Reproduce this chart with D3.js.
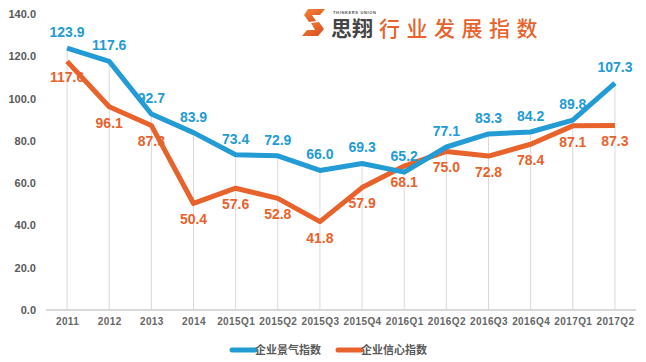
<!DOCTYPE html>
<html>
<head>
<meta charset="utf-8">
<script src="https://cdn.jsdelivr.net/npm/d3@7"></script>
<style>
html,body{margin:0;padding:0;background:#fff;}
svg{display:block;}
</style>
</head>
<body>
<svg id="chart" width="646" height="362"></svg>
<script>
const categories = ["2011","2012","2013","2014","2015Q1","2015Q2","2015Q3","2015Q4","2016Q1","2016Q2","2016Q3","2016Q4","2017Q1","2017Q2"];
const prosperity = [123.9,117.6,92.7,83.9,73.4,72.9,66.0,69.3,65.2,77.1,83.3,84.2,89.8,107.3];
const confidence = [117.6,96.1,87.3,50.4,57.6,52.8,41.8,57.9,68.1,75.0,72.8,78.4,87.1,87.3];
const yTicks = [0,20,40,60,80,100,120,140];
const seriesNames = ["企业景气指数","企业信心指数"];
const titleBrand = "思翔";
const titleText = "行业发展指数";

const blue = "#239bd4", orange = "#e8622c", gray = "#595959";
const svg = d3.select("#chart");
const font = "'Liberation Sans', Arial, sans-serif";

const x = d3.scalePoint().domain(categories).range([46, 636]).padding(0.5);
const y = d3.scaleLinear().domain([0,140]).range([310, 14]);

// drop lines
svg.append("g").selectAll("line").data(categories).join("line")
  .attr("x1", d=>x(d)).attr("x2", d=>x(d))
  .attr("y1", (d,i)=>y(Math.max(prosperity[i], confidence[i])))
  .attr("y2", y(0))
  .attr("stroke", "#d9d9d9").attr("stroke-width", 1);

// y axis labels
const yAxis = d3.axisLeft(y).tickValues(yTicks).tickFormat(d3.format(".1f")).tickSize(0).tickPadding(0);
const ya = svg.append("g").attr("transform","translate(36,0)").call(yAxis);
ya.select(".domain").remove();
ya.selectAll("text").attr("font-family", font).attr("font-size", 11).attr("font-weight","bold").attr("fill", gray);

// x axis
const xAxis = d3.axisBottom(x).tickSize(0).tickPadding(8);
const xa = svg.append("g").attr("transform", `translate(0,${y(0)})`).call(xAxis);
xa.select(".domain").attr("stroke","#d9d9d9").attr("stroke-width",2).attr("d","M46,0H636");
xa.selectAll("text").attr("font-family", font).attr("font-size", 10).attr("font-weight","bold")
  .attr("fill", "#666").attr("letter-spacing", 0.4);

const line = d3.line().x((d,i)=>x(categories[i])).y(d=>y(d));
svg.append("path").datum(confidence).attr("d", line).attr("fill","none")
  .attr("stroke", orange).attr("stroke-width", 5).attr("stroke-linejoin","round");
svg.append("path").datum(prosperity).attr("d", line).attr("fill","none")
  .attr("stroke", blue).attr("stroke-width", 5).attr("stroke-linejoin","round");

// labels
svg.append("g").selectAll("text").data(confidence).join("text")
  .attr("x",(d,i)=>x(categories[i])).attr("y", d=>y(d)+16).attr("dy","0.35em")
  .attr("text-anchor","middle").attr("font-family",font).attr("font-size",14).attr("font-weight","bold")
  .attr("fill", orange).text(d=>d.toFixed(1));
svg.append("g").selectAll("text").data(prosperity).join("text")
  .attr("x",(d,i)=>x(categories[i])).attr("y", d=>y(d)-16).attr("dy","0.35em")
  .attr("text-anchor","middle").attr("font-family",font).attr("font-size",14).attr("font-weight","bold")
  .attr("fill", blue).text(d=>d.toFixed(1));

// title with logo
const logo = svg.append("g").attr("transform","translate(302,9)");
const grad = svg.append("defs").append("linearGradient").attr("id","lg").attr("x1","0").attr("y1","0").attr("x2","1").attr("y2","1");
grad.append("stop").attr("offset","0").attr("stop-color","#f08a3a");
grad.append("stop").attr("offset","1").attr("stop-color","#d9481e");
logo.append("path").attr("d","M6,0 L23,0 L18,6 L10,6 L14,12 L7,13 L2,6 Z").attr("fill","url(#lg)");
logo.append("path").attr("d","M9,14 L17,13 L22,20 L16,27 L0,27 L5,21 L13,21 Z").attr("fill","url(#lg)");
svg.append("text").attr("x",333).attr("y",14).attr("font-family",font).attr("font-size",4)
  .attr("font-weight","bold").attr("fill","#555").attr("textLength",43).attr("lengthAdjust","spacing").text("THINKERS UNION");
svg.append("text").attr("x",331).attr("y",36).attr("font-family","'Noto Sans CJK SC', sans-serif")
  .attr("font-size",21).attr("font-weight","bold").attr("fill","#454545").text(titleBrand);
svg.append("text").attr("x",379).attr("y",36).attr("font-family","'Noto Sans CJK SC', sans-serif")
  .attr("font-size",21).attr("font-weight","500").attr("fill",orange).attr("letter-spacing",6.5).text(titleText);

// legend
const legend = [{name:seriesNames[0], color:blue, x:232},{name:seriesNames[1], color:orange, x:338}];
const lg = svg.append("g").selectAll("g").data(legend).join("g").attr("transform",d=>`translate(${d.x},350)`);
lg.append("line").attr("x1",0).attr("x2",23).attr("y1",0).attr("y2",0).attr("stroke",d=>d.color)
  .attr("stroke-width",5).attr("stroke-linecap","round");
lg.append("text").attr("x",23).attr("y",0).attr("dy","0.38em").attr("font-family","'Noto Sans CJK SC', sans-serif")
  .attr("font-size",11).attr("font-weight","bold").attr("fill",gray).text(d=>d.name);
</script>
</body>
</html>
